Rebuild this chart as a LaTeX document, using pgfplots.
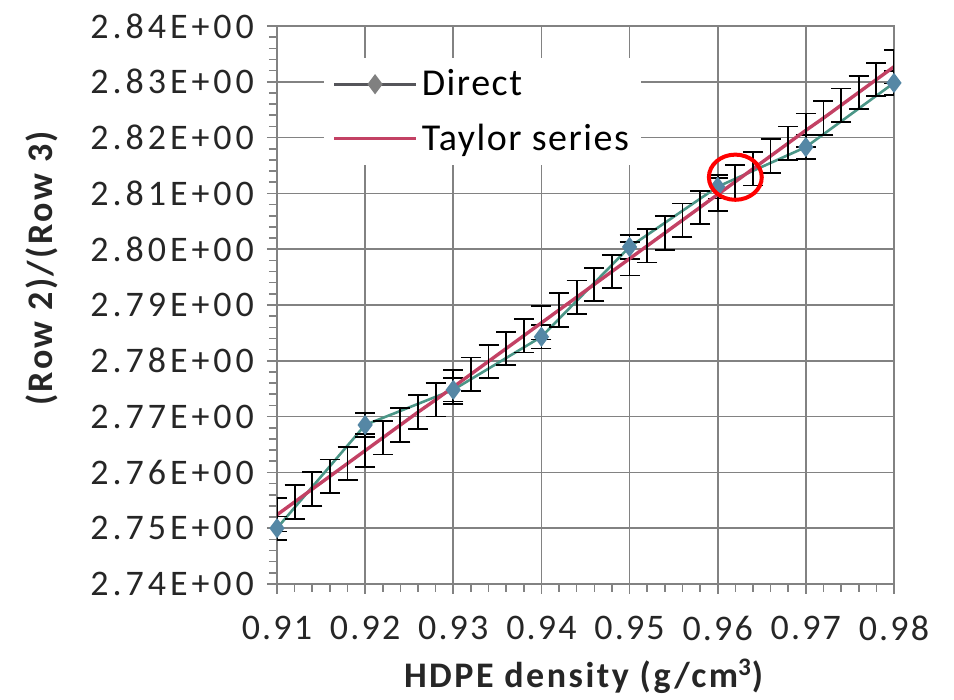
\documentclass[border=0pt]{standalone}
\usepackage{fontspec}
\setmainfont{Carlito}
\newfontfamily\ytfont{Carlito}[LetterSpace=11]
\newfontfamily\xtfont{Carlito}[LetterSpace=6]
\newfontfamily\lblfont{Carlito}[LetterSpace=7]
\newfontfamily\legfont{Carlito}[LetterSpace=4]
\usepackage{pgfplots}
\pgfplotsset{compat=1.18}

\definecolor{gridgray}{RGB}{130,130,130}
\definecolor{directline}{RGB}{75,150,135}
\definecolor{directmark}{RGB}{85,135,165}
\definecolor{taylorred}{RGB}{195,65,100}
\definecolor{legendgray}{RGB}{85,85,90}

\pgfplotsset{
  longline legend/.style={legend image code/.code={\draw[##1] (0pt,0pt) -- (41pt,0pt);}},
  longmark legend/.style={legend image code/.code={%
      \draw[##1, mark=none] (0pt,0pt) -- (41pt,0pt);
      \draw[##1, only marks] plot coordinates {(20.5pt,0pt)};}},
}

\begin{document}
\begin{tikzpicture}
\useasboundingbox (-138.5pt,-58pt) rectangle (338.5pt,292pt);
\begin{axis}[
    name=ax,
    scale only axis,
    width=308.5pt, height=279pt,
    xmin=0.91, xmax=0.98,
    ymin=2.74, ymax=2.84,
    xtick={0.91,0.92,0.93,0.94,0.95,0.96,0.97,0.98},
    xticklabels={0.91,0.92,0.93,0.94,0.95,0.96,0.97,0.98},
    ytick={2.74,2.75,2.76,2.77,2.78,2.79,2.80,2.81,2.82,2.83,2.84},
    yticklabels={2.74E+00,2.75E+00,2.76E+00,2.77E+00,2.78E+00,2.79E+00,2.80E+00,2.81E+00,2.82E+00,2.83E+00,2.84E+00},
    minor x tick num=4,
    minor y tick num=4,
    tick pos=left,
    tick align=outside,
    major tick length=5pt,
    minor tick length=4pt,
    grid=major,
    major grid style={gridgray, line width=0.8pt},
    axis line style={gridgray, line width=0.8pt},
    every tick/.style={gridgray, line width=0.8pt},
    yticklabel style={font=\ytfont\fontsize{18}{20}\selectfont, text=black!85, xshift=-3pt},
    xticklabel style={font=\xtfont\fontsize{18}{20}\selectfont, text=black!85, yshift=-7.5pt},
    xlabel={\textbf{HDPE density (g/cm\textsuperscript{3})}},
    ylabel={\textbf{(Row 2)/(Row 3)}},
    label style={font=\lblfont\fontsize{18}{20}\selectfont, text=black!85},
    x label style={at={(axis description cs:0.499,-0.165)}, anchor=center},
    y label style={at={(axis description cs:-0.381,0.568)}, anchor=center},
    legend style={
        at={(0.076,0.944)}, anchor=north west,
        draw=none, fill=white,
        font=\legfont\fontsize{19}{22}\selectfont,
        row sep=8.5pt,
        inner sep=4pt,
    },
    legend cell align=left,
]

% Direct
\addplot[directline, line width=1.3pt, mark=diamond*, mark size=4pt,
    mark options={fill=directmark, draw=directmark},
    forget plot,
    error bars/.cd, y dir=both, y fixed=0.0021,
    error bar style={black, line width=0.9pt},
    error mark options={black, line width=0.9pt, mark size=5pt, rotate=90}]
coordinates {
(0.91,2.7500) (0.92,2.7685) (0.93,2.7748) (0.94,2.7843)
(0.95,2.8004) (0.96,2.8112) (0.97,2.8183) (0.98,2.8298)
};

% Taylor series
\addplot[taylorred, line width=1.7pt, forget plot,
    error bars/.cd, y dir=both, y fixed=0.003,
    error bar style={black, line width=0.9pt},
    error mark options={black, line width=0.9pt, mark size=5pt, rotate=90}]
coordinates {
(0.910,2.7524) (0.912,2.7547) (0.914,2.7570) (0.916,2.7593) (0.918,2.7616)
(0.920,2.7639) (0.922,2.7662) (0.924,2.7685) (0.926,2.7708) (0.928,2.7730)
(0.930,2.7753) (0.932,2.7776) (0.934,2.7799) (0.936,2.7822) (0.938,2.7845)
(0.940,2.7868) (0.942,2.7891) (0.944,2.7914) (0.946,2.7937) (0.948,2.7960)
(0.950,2.7983) (0.952,2.8006) (0.954,2.8029) (0.956,2.8052) (0.958,2.8075)
(0.960,2.8098) (0.962,2.8121) (0.964,2.8144) (0.966,2.8167) (0.968,2.8190)
(0.970,2.8213) (0.972,2.8235) (0.974,2.8258) (0.976,2.8281) (0.978,2.8304)
(0.980,2.8327)
};

% red highlight circle
\addplot[only marks, mark=o, mark size=11.3pt, forget plot,
    mark options={red, line width=2pt, xscale=1.17}]
coordinates {(0.9620,2.8129)};

\addlegendimage{legendgray, line width=1.3pt, mark=diamond*, mark size=4pt,
    mark options={fill=gray, draw=gray}, longmark legend}
\addlegendentry{Direct}
\addlegendimage{taylorred, line width=1.8pt, longline legend}
\addlegendentry{Taylor series}

\end{axis}
\end{tikzpicture}
\end{document}
